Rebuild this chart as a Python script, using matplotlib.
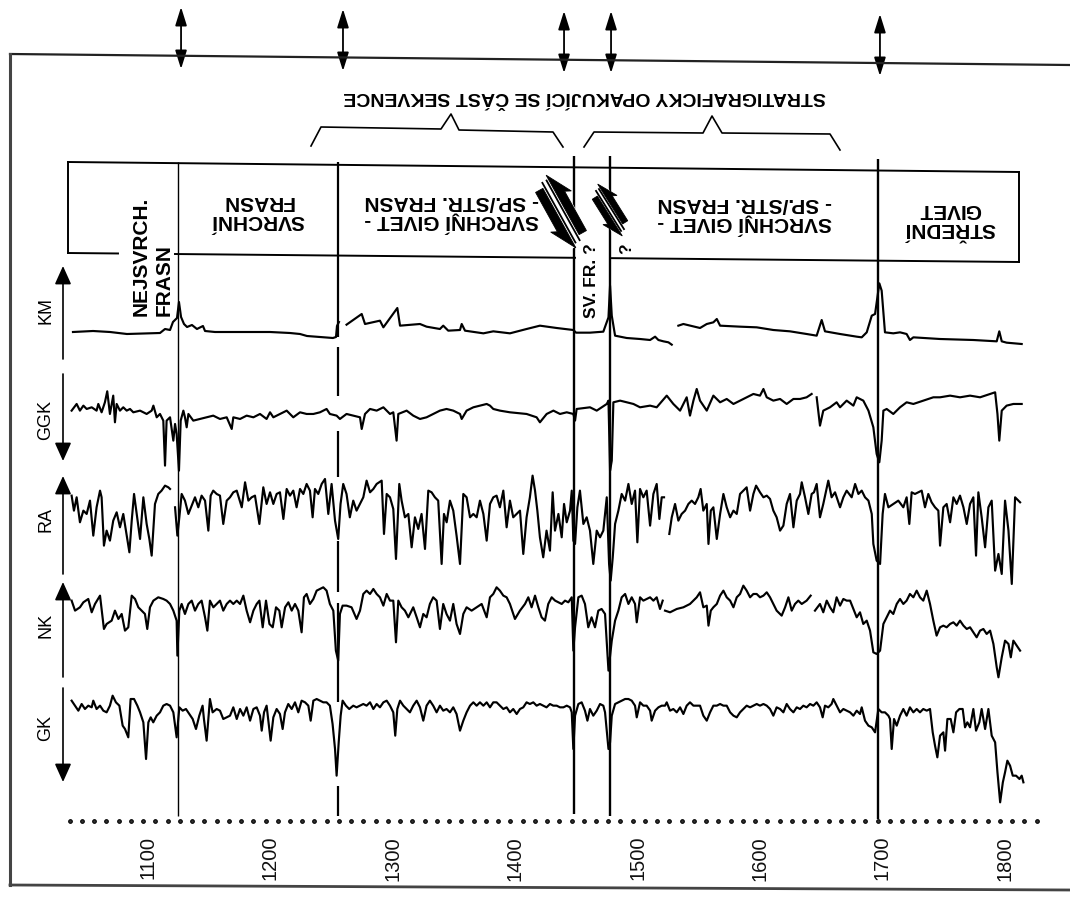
import numpy as np
import matplotlib
matplotlib.use("Agg")
import matplotlib.pyplot as plt
from matplotlib import font_manager as fm
from matplotlib.patches import Polygon
from matplotlib.ticker import FixedLocator, MultipleLocator

nan = float("nan")

# ------------------------------------------------------------------ data
DEPTH_TICKS = [1100, 1200, 1300, 1400, 1500, 1600, 1700, 1800]
BOUNDARY_DEPTHS = [1124.5, 1255.2, 1448.0, 1477.5, 1696.4]
ARROW_DEPTHS = [1127.0, 1259.3, 1439.9, 1478.3, 1698.0]
LOG_NAMES = ["KM", "GGK", "RA", "NK", "GK"]

TITLE = "STRATIGRAFICKY OPAKUJÍCÍ SE ČÁST SEKVENCE"
UNIT_LABELS = ["SVRCHNÍ\nFRASN", "SVRCHNÍ GIVET -\n- SP./STŘ. FRASN",
               "SVRCHNÍ GIVET -\n- SP./STŘ. FRASN", "STŘEDNÍ\nGIVET"]

# (depth m, relative log response) ; nan = interruption of the record
KM = [(1038.7, 66), (1055.1, 69), (1069.0, 66), (1082.8, 60), (1109.8, 63), (1113.9, 75),
      (1118.0, 72), (1120.4, 96), (1123.7, 108), (1125.3, 156), (1127.0, 111), (1129.4, 90),
      (1131.9, 81), (1135.9, 87), (1140.0, 75), (1144.9, 84), (1146.6, 69), (1154.7, 66),
      (1175.2, 66), (1199.7, 66), (1216.0, 63), (1224.2, 60), (1229.9, 54), (1240.5, 51),
      (1251.1, 48), (1253.6, 51), (1254.4, 84), (1256.0, 96), (1259.0, nan),
      (1262.2, 88), (1274.6, 120), (1277.3, 90), (1289.5, 100), (1292.3, 80), (1303.7, 138),
      (1305.9, 85), (1322.2, 90), (1327.6, 82), (1338.5, 75), (1341.2, 85), (1345.3, 70),
      (1354.9, 72), (1356.3, 90), (1359.0, 70), (1374.0, 62), (1382.1, 68), (1395.7, 62),
      (1409.3, 75), (1420.2, 85), (1433.9, 78), (1447.5, 72), (1449.7, 64), (1461.1, 64),
      (1472.0, 67), (1476.2, 110), (1477.5, 205), (1478.9, 115), (1481.6, 55), (1491.1, 48),
      (1502.0, 45), (1510.2, 42), (1514.3, 52), (1517.0, 42), (1521.1, 38), (1525.2, 35),
      (1527.9, 28), (1530.5, nan),
      (1533.3, 85), (1537.4, 90), (1551.0, 78), (1556.5, 90), (1561.9, 95), (1564.7, 105),
      (1567.4, 85), (1583.7, 82), (1597.3, 80), (1610.9, 72), (1624.5, 68), (1638.1, 60),
      (1646.3, 55), (1650.4, 102), (1653.1, 68), (1665.4, 60), (1679.0, 52), (1683.1, 50),
      (1687.2, 65), (1691.3, 115), (1694.0, 120), (1695.9, 170), (1697.5, 212), (1699.4, 190),
      (1702.1, 65), (1708.9, 62), (1714.4, 65), (1719.8, 60), (1722.5, 42), (1725.3, 50),
      (1747.1, 45), (1774.3, 42), (1793.4, 38), (1795.5, 68), (1797.5, 38), (1801.5, 34),
      (1813.8, 30)]

GGK = [(1037.6, 230), (1041.7, 250), (1044.4, 230), (1047.2, 245), (1049.9, 235), (1054.0, 240),
       (1058.0, 230), (1059.4, 250), (1062.1, 225), (1064.8, 255), (1066.7, 288), (1068.9, 220),
       (1071.6, 275), (1073.0, 195), (1074.4, 250), (1077.1, 230), (1079.8, 240), (1082.6, 230),
       (1085.3, 235), (1088.0, 225), (1093.5, 230), (1098.9, 220), (1103.0, 230), (1104.4, 245),
       (1107.1, 210), (1109.8, 220), (1112.5, 200), (1113.9, 65), (1115.2, 200), (1118.0, 210),
       (1120.7, 140), (1122.1, 190), (1123.4, 160), (1125.3, 50), (1126.7, 200), (1128.9, 230),
       (1130.2, 210), (1131.6, 180), (1133.0, 220), (1137.0, 200), (1142.5, 205), (1147.9, 210),
       (1153.3, 215), (1158.8, 205), (1164.3, 210), (1168.4, 175), (1169.7, 210), (1175.2, 205),
       (1180.6, 215), (1186.1, 210), (1191.5, 220), (1196.9, 205), (1199.7, 225), (1202.4, 210),
       (1207.8, 220), (1213.3, 230), (1218.7, 210), (1224.2, 225), (1229.6, 220), (1235.1, 220),
       (1240.5, 225), (1245.9, 235), (1248.6, 220), (1254.1, 215), (1256.8, 205), (1262.2, 220),
       (1267.7, 215), (1273.2, 210), (1274.6, 175), (1277.3, 220), (1281.4, 235), (1286.8, 230),
       (1292.3, 240), (1297.7, 220), (1300.4, 225), (1303.1, 140), (1304.5, 220), (1311.3, 230),
       (1316.7, 215), (1322.2, 205), (1327.6, 210), (1333.0, 220), (1338.5, 230), (1343.9, 235),
       (1349.4, 230), (1354.9, 220), (1356.3, 205), (1360.3, 230), (1365.8, 240), (1371.2, 245),
       (1376.7, 250), (1379.4, 245), (1382.1, 235), (1387.5, 230), (1395.7, 225), (1409.3, 220),
       (1417.5, 210), (1420.2, 195), (1425.7, 220), (1431.2, 230), (1436.6, 220), (1442.1, 225),
       (1447.5, 220), (1448.9, 200), (1450.2, 235), (1461.1, 240), (1466.6, 230), (1474.8, 250),
       (1476.2, 260), (1477.5, 50), (1478.9, 80), (1480.2, 255), (1485.7, 260), (1491.1, 255),
       (1496.6, 250), (1502.0, 240), (1510.2, 245), (1515.6, 240), (1523.8, 275), (1529.2, 250),
       (1534.7, 230), (1540.1, 270), (1542.8, 215), (1545.6, 260), (1548.3, 295), (1551.0, 260),
       (1556.5, 230), (1561.9, 275), (1567.4, 255), (1572.8, 265), (1578.3, 250), (1583.7, 260),
       (1589.1, 270), (1594.6, 280), (1600.0, 275), (1602.8, 295), (1605.5, 270), (1610.9, 260),
       (1616.4, 265), (1621.8, 250), (1627.3, 265), (1632.7, 265), (1638.1, 270), (1642.2, 280),
       (1644.2, nan), (1646.3, 270), (1649.0, 185), (1651.7, 230), (1657.2, 240), (1662.6, 255),
       (1665.4, 240), (1670.8, 260), (1676.3, 245), (1679.0, 270), (1684.4, 260), (1688.6, 230),
       (1692.6, 180), (1695.3, 100), (1697.5, 75), (1699.4, 140), (1700.8, 230), (1703.5, 235),
       (1708.9, 220), (1714.4, 240), (1719.8, 255), (1725.3, 250), (1733.4, 260), (1741.6, 270),
       (1747.1, 270), (1755.3, 275), (1763.4, 270), (1771.6, 275), (1779.8, 270), (1788.0, 280),
       (1792.1, 285), (1794.0, 220), (1795.5, 140), (1797.5, 230), (1801.5, 245), (1807.0, 250),
       (1813.8, 250)]

RA = [(1037.6, 305), (1039.5, 260), (1041.7, 300), (1044.4, 225), (1047.2, 260), (1049.9, 250),
      (1052.6, 290), (1055.3, 185), (1058.0, 270), (1060.8, 320), (1062.1, 300), (1064.0, 155),
      (1066.2, 200), (1068.9, 170), (1071.6, 230), (1074.4, 255), (1077.1, 210), (1079.8, 250),
      (1082.6, 185), (1084.8, 135), (1086.7, 230), (1088.6, 310), (1090.8, 250), (1093.5, 175),
      (1096.2, 300), (1098.9, 220), (1101.1, 175), (1103.0, 125), (1105.7, 280), (1108.4, 310),
      (1111.1, 320), (1113.9, 335), (1116.6, 330), (1118.0, 325), (1120.0, nan),
      (1122.1, 270), (1124.0, 185), (1125.6, 240), (1127.5, 310), (1130.2, 290), (1133.0, 250),
      (1135.7, 275), (1138.4, 300), (1141.1, 270), (1143.8, 305), (1146.6, 290), (1149.3, 200),
      (1151.2, 305), (1153.3, 320), (1156.1, 310), (1158.8, 305), (1161.5, 220), (1164.3, 290),
      (1167.0, 300), (1169.7, 315), (1172.5, 320), (1176.6, 270), (1179.3, 345), (1182.0, 290),
      (1184.7, 300), (1187.4, 305), (1191.0, 220), (1194.2, 330), (1196.9, 280), (1199.7, 315),
      (1202.4, 280), (1205.1, 310), (1207.8, 315), (1210.6, 235), (1213.3, 325), (1216.0, 305),
      (1218.7, 320), (1221.4, 270), (1224.2, 325), (1226.9, 310), (1229.6, 340), (1232.3, 320),
      (1234.5, 240), (1236.4, 325), (1239.1, 310), (1241.9, 340), (1244.6, 355), (1247.3, 250),
      (1250.0, 340), (1252.8, 230), (1255.4, 175), (1257.3, 280), (1259.5, 340), (1262.2, 310),
      (1264.9, 240), (1267.7, 290), (1270.4, 260), (1273.2, 280), (1275.9, 300), (1278.6, 350),
      (1281.4, 315), (1284.1, 325), (1286.8, 340), (1290.9, 350), (1292.8, 190), (1295.0, 310),
      (1297.7, 300), (1300.4, 265), (1302.6, 115), (1305.3, 340), (1307.2, 290), (1309.9, 240),
      (1312.7, 250), (1315.4, 150), (1318.1, 240), (1320.8, 205), (1323.5, 250), (1326.3, 145),
      (1329.0, 320), (1331.7, 315), (1334.4, 300), (1337.1, 290), (1339.9, 100), (1341.8, 250),
      (1344.0, 225), (1346.7, 290), (1349.4, 260), (1352.1, 185), (1354.9, 100), (1357.6, 310),
      (1360.3, 300), (1363.1, 240), (1365.8, 250), (1368.5, 240), (1371.2, 290), (1374.0, 250),
      (1376.7, 170), (1379.4, 280), (1382.1, 300), (1384.8, 305), (1387.5, 270), (1390.3, 320),
      (1393.0, 210), (1395.7, 290), (1398.4, 240), (1401.2, 250), (1403.9, 260), (1406.6, 130),
      (1409.3, 240), (1412.0, 300), (1414.2, 365), (1416.2, 320), (1418.1, 260), (1420.2, 180),
      (1422.9, 120), (1425.6, 200), (1428.4, 140), (1430.6, 315), (1432.5, 200), (1435.3, 250),
      (1438.0, 180), (1439.9, 280), (1442.1, 225), (1444.8, 260), (1446.2, 320), (1447.5, 170),
      (1448.9, 160), (1450.8, 270), (1452.9, 320), (1455.7, 220), (1458.4, 240), (1461.1, 200),
      (1463.8, 100), (1466.6, 200), (1469.3, 180), (1472.0, 200), (1474.8, 300), (1476.7, 100),
      (1478.0, 50), (1479.7, 120), (1481.6, 220), (1484.3, 260), (1487.0, 310), (1489.8, 290),
      (1492.5, 340), (1495.2, 280), (1497.9, 320), (1499.8, 165), (1502.0, 325), (1504.7, 300),
      (1507.4, 320), (1510.2, 215), (1512.9, 310), (1515.6, 340), (1517.8, 235), (1519.7, 300),
      (1521.6, 300), (1523.7, nan),
      (1525.9, 190), (1527.9, 240), (1530.6, 280), (1533.3, 230), (1536.0, 250), (1538.8, 260),
      (1541.5, 280), (1544.2, 290), (1546.9, 280), (1549.6, 300), (1551.5, 325), (1553.7, 260),
      (1556.5, 280), (1557.9, 160), (1559.8, 260), (1561.9, 270), (1564.7, 175), (1567.4, 250),
      (1570.1, 310), (1572.8, 270), (1575.6, 240), (1578.3, 260), (1581.0, 250), (1583.7, 310),
      (1586.4, 320), (1589.1, 330), (1591.9, 260), (1594.6, 310), (1596.8, 335), (1600.0, 315),
      (1602.8, 300), (1605.5, 305), (1608.2, 295), (1610.9, 260), (1613.6, 240), (1616.4, 200),
      (1619.1, 215), (1621.8, 280), (1624.5, 310), (1627.3, 210), (1630.0, 290), (1632.7, 310),
      (1634.1, 345), (1636.8, 300), (1639.5, 250), (1642.2, 310), (1644.1, 315), (1646.3, 340),
      (1649.0, 240), (1651.7, 280), (1655.8, 350), (1658.5, 300), (1661.3, 315), (1665.4, 270),
      (1668.1, 300), (1670.8, 320), (1674.9, 300), (1677.7, 340), (1680.4, 310), (1683.1, 320),
      (1685.8, 300), (1688.6, 290), (1691.3, 250), (1692.6, 160), (1695.3, 110), (1698.1, 100),
      (1700.2, 250), (1702.1, 310), (1704.9, 270), (1708.9, 280), (1713.0, 290), (1717.1, 270),
      (1719.8, 300), (1722.0, 220), (1723.9, 315), (1726.6, 310), (1729.3, 315), (1732.1, 320),
      (1734.8, 270), (1737.5, 310), (1740.2, 285), (1743.0, 270), (1745.7, 260), (1747.1, 155),
      (1749.8, 270), (1752.5, 280), (1755.3, 225), (1758.0, 300), (1760.7, 280), (1763.4, 305),
      (1766.2, 270), (1768.9, 220), (1771.6, 280), (1774.3, 300), (1776.5, 125), (1778.4, 315),
      (1781.1, 240), (1783.9, 150), (1786.6, 270), (1789.3, 290), (1792.1, 80), (1794.8, 130),
      (1797.5, 70), (1800.2, 290), (1803.0, 200), (1805.7, 40), (1808.4, 300), (1812.5, 285)]

NK = [(1037.6, 290), (1040.4, 260), (1044.4, 270), (1047.2, 285), (1051.2, 295), (1054.0, 255),
      (1056.7, 280), (1060.8, 305), (1064.0, 205), (1066.2, 220), (1070.3, 230), (1073.0, 260),
      (1075.8, 235), (1078.5, 250), (1081.2, 200), (1083.9, 210), (1086.7, 305), (1089.4, 295),
      (1092.1, 270), (1094.8, 260), (1097.5, 250), (1099.4, 205), (1101.6, 270), (1104.4, 290),
      (1108.4, 300), (1112.5, 295), (1115.2, 290), (1118.0, 280), (1120.7, 260), (1123.4, 230),
      (1124.0, 125), (1125.6, 260), (1127.5, 280), (1130.2, 250), (1133.0, 280), (1135.7, 290),
      (1138.4, 260), (1141.1, 280), (1143.8, 290), (1146.6, 240), (1148.5, 200), (1150.6, 290),
      (1153.4, 270), (1156.1, 280), (1158.8, 290), (1161.5, 260), (1164.3, 280), (1167.0, 290),
      (1169.7, 280), (1172.5, 290), (1175.2, 280), (1177.9, 305), (1180.6, 260), (1183.4, 225),
      (1186.1, 260), (1188.8, 280), (1191.0, 290), (1193.7, 210), (1196.4, 290), (1199.2, 220),
      (1201.9, 210), (1204.6, 270), (1207.3, 260), (1209.2, 210), (1212.0, 270), (1214.7, 285),
      (1217.4, 260), (1220.1, 280), (1222.8, 260), (1225.5, 195), (1227.4, 300), (1229.6, 310),
      (1232.3, 280), (1235.1, 295), (1237.8, 320), (1240.5, 325), (1243.2, 330), (1245.9, 320),
      (1248.6, 280), (1251.4, 260), (1253.5, 140), (1255.4, 110), (1256.8, 250), (1259.0, 275),
      (1262.2, 275), (1266.3, 270), (1270.4, 235), (1273.2, 260), (1275.9, 310), (1278.6, 320),
      (1281.4, 310), (1284.1, 325), (1286.8, 310), (1289.5, 300), (1292.3, 275), (1295.0, 310),
      (1297.7, 290), (1300.4, 290), (1302.6, 165), (1304.5, 290), (1307.2, 270), (1309.9, 260),
      (1312.7, 240), (1316.7, 270), (1319.5, 240), (1322.2, 210), (1324.9, 250), (1327.6, 240),
      (1330.3, 280), (1333.0, 300), (1335.8, 290), (1338.5, 205), (1341.2, 280), (1343.9, 250),
      (1346.7, 230), (1349.4, 280), (1352.1, 220), (1354.9, 190), (1357.6, 250), (1360.3, 270),
      (1364.4, 260), (1368.5, 270), (1372.6, 280), (1376.7, 240), (1379.4, 300), (1382.1, 310),
      (1384.8, 330), (1387.5, 320), (1390.3, 305), (1393.0, 300), (1395.7, 280), (1399.8, 235),
      (1403.9, 260), (1408.0, 280), (1410.7, 300), (1413.4, 270), (1416.2, 305), (1418.9, 270),
      (1421.6, 240), (1424.3, 230), (1427.0, 280), (1429.8, 300), (1432.6, 290), (1435.3, 285),
      (1438.0, 280), (1440.7, 290), (1443.4, 285), (1446.2, 300), (1447.5, 140), (1448.9, 210),
      (1451.6, 300), (1454.3, 305), (1457.0, 280), (1459.7, 210), (1462.4, 240), (1465.2, 210),
      (1467.9, 260), (1470.6, 265), (1473.4, 250), (1476.2, 80), (1478.9, 170), (1481.6, 230),
      (1484.3, 260), (1487.0, 300), (1489.8, 310), (1492.5, 280), (1495.2, 300), (1497.9, 280),
      (1499.3, 225), (1502.0, 300), (1504.7, 290), (1507.4, 295), (1510.2, 300), (1512.9, 290),
      (1515.6, 300), (1518.3, 265), (1520.5, 290), (1521.5, nan),
      (1522.4, 260), (1526.5, 255), (1532.0, 265), (1537.4, 270), (1542.8, 280), (1548.3, 300),
      (1551.0, 315), (1553.7, 270), (1556.5, 275), (1557.9, 215), (1559.8, 260), (1561.9, 270),
      (1564.7, 280), (1567.4, 305), (1570.1, 320), (1572.8, 300), (1575.6, 290), (1578.3, 270),
      (1581.0, 300), (1583.7, 310), (1586.4, 335), (1589.1, 320), (1591.9, 300), (1594.6, 310),
      (1597.3, 310), (1600.0, 300), (1602.8, 305), (1605.5, 315), (1608.2, 300), (1610.9, 280),
      (1613.6, 260), (1617.7, 245), (1620.5, 270), (1623.2, 300), (1625.9, 260), (1628.6, 280),
      (1631.3, 290), (1634.1, 280), (1638.1, 290), (1641.4, 305), (1643.0, nan),
      (1644.9, 260), (1649.0, 280), (1651.7, 255), (1654.5, 290), (1657.2, 270), (1659.9, 255),
      (1662.6, 300), (1665.4, 275), (1668.1, 295), (1670.8, 290), (1673.6, 290), (1676.3, 265),
      (1679.0, 240), (1681.7, 255), (1684.4, 220), (1687.2, 230), (1689.9, 200), (1692.6, 135),
      (1695.3, 130), (1698.1, 140), (1700.8, 220), (1703.5, 240), (1706.2, 260), (1708.9, 250),
      (1711.7, 280), (1714.4, 295), (1717.1, 280), (1719.8, 290), (1722.5, 310), (1725.3, 300),
      (1728.0, 320), (1730.7, 300), (1733.4, 290), (1736.2, 320), (1738.9, 280), (1741.6, 230),
      (1744.3, 185), (1747.1, 210), (1749.8, 215), (1752.5, 210), (1755.3, 220), (1758.0, 225),
      (1760.7, 215), (1763.4, 230), (1766.2, 215), (1768.9, 205), (1771.6, 210), (1774.3, 195),
      (1777.0, 180), (1779.8, 200), (1782.5, 205), (1785.2, 190), (1788.0, 200), (1790.7, 160),
      (1793.4, 90), (1794.8, 60), (1797.5, 120), (1800.2, 170), (1803.0, 160), (1804.9, 120),
      (1807.0, 170), (1809.8, 155), (1812.5, 140)]

GK = [(1037.6, 355), (1040.4, 340), (1043.1, 325), (1045.8, 345), (1048.5, 330), (1051.2, 340),
      (1054.0, 335), (1055.3, 355), (1058.0, 330), (1060.8, 340), (1063.5, 325), (1066.2, 320),
      (1068.9, 340), (1071.1, 370), (1073.8, 350), (1076.6, 340), (1079.3, 280), (1081.2, 270),
      (1083.9, 245), (1085.8, 360), (1088.6, 360), (1091.3, 340), (1093.5, 320), (1096.2, 290),
      (1098.4, 180), (1100.3, 290), (1102.2, 305), (1104.3, 290), (1107.1, 310), (1109.8, 320),
      (1112.5, 340), (1115.2, 345), (1118.0, 340), (1120.7, 320), (1123.4, 245), (1125.6, 335),
      (1128.3, 325), (1131.0, 330), (1133.8, 315), (1136.5, 300), (1139.2, 270), (1141.9, 310),
      (1144.6, 340), (1145.7, 300), (1147.9, 235), (1150.6, 360), (1152.8, 320), (1156.1, 330),
      (1158.8, 325), (1161.5, 300), (1164.3, 305), (1167.0, 310), (1169.7, 335), (1172.5, 300),
      (1175.2, 330), (1177.9, 310), (1180.6, 335), (1183.4, 295), (1186.1, 330), (1188.8, 335),
      (1191.5, 310), (1192.9, 265), (1194.8, 320), (1196.9, 340), (1200.2, 235), (1202.4, 305),
      (1205.1, 330), (1207.8, 315), (1210.0, 270), (1211.9, 320), (1214.6, 345), (1217.4, 330),
      (1220.1, 350), (1222.8, 320), (1225.5, 355), (1228.3, 350), (1231.0, 340), (1232.9, 295),
      (1235.1, 355), (1237.8, 360), (1240.5, 355), (1243.2, 350), (1245.9, 350), (1248.6, 340),
      (1250.8, 285), (1252.8, 210), (1254.1, 130), (1255.8, 230), (1257.4, 310), (1259.0, 355),
      (1261.7, 340), (1264.4, 330), (1267.7, 340), (1270.4, 335), (1273.2, 340), (1275.9, 345),
      (1278.6, 340), (1281.4, 350), (1284.1, 330), (1286.8, 345), (1289.5, 335), (1292.3, 350),
      (1295.0, 355), (1297.7, 340), (1300.4, 320), (1302.0, 250), (1303.7, 330), (1305.9, 355),
      (1308.6, 340), (1311.3, 330), (1314.0, 320), (1316.7, 340), (1319.5, 355), (1322.2, 335),
      (1324.9, 295), (1327.6, 340), (1330.3, 355), (1333.0, 340), (1335.8, 320), (1338.5, 340),
      (1341.2, 325), (1343.9, 330), (1346.7, 320), (1349.4, 335), (1352.1, 315), (1354.9, 265),
      (1357.6, 295), (1360.3, 320), (1363.1, 340), (1365.8, 350), (1368.5, 340), (1371.2, 350),
      (1374.0, 340), (1376.7, 350), (1379.4, 335), (1382.1, 350), (1384.8, 350), (1387.5, 340),
      (1390.3, 330), (1393.0, 335), (1395.7, 320), (1398.4, 330), (1401.2, 315), (1403.9, 330),
      (1406.6, 335), (1409.3, 350), (1412.0, 345), (1414.8, 350), (1417.5, 340), (1420.2, 345),
      (1422.9, 340), (1425.6, 335), (1428.4, 345), (1431.1, 340), (1433.9, 340), (1436.6, 335),
      (1439.4, 335), (1442.1, 340), (1444.8, 335), (1446.2, 320), (1447.5, 210), (1448.9, 310),
      (1451.6, 345), (1454.3, 350), (1457.0, 325), (1459.0, 295), (1461.1, 330), (1463.8, 310),
      (1466.6, 325), (1469.3, 345), (1472.0, 340), (1473.4, 320), (1476.2, 210), (1477.5, 230),
      (1478.9, 310), (1481.6, 345), (1484.3, 350), (1487.0, 355), (1489.8, 360), (1492.5, 360),
      (1495.2, 355), (1497.9, 340), (1499.3, 305), (1502.0, 350), (1504.7, 340), (1507.4, 340),
      (1510.2, 325), (1511.5, 295), (1514.3, 325), (1517.0, 335), (1519.7, 340), (1522.4, 340),
      (1523.8, 350), (1526.5, 325), (1529.2, 330), (1532.0, 320), (1534.7, 335), (1537.4, 315),
      (1540.1, 340), (1542.8, 350), (1545.6, 340), (1548.3, 340), (1551.0, 340), (1553.7, 310),
      (1556.5, 295), (1559.2, 320), (1561.9, 340), (1564.7, 340), (1567.4, 345), (1570.1, 340),
      (1572.8, 340), (1575.6, 320), (1578.3, 310), (1581.0, 305), (1583.7, 320), (1586.4, 330),
      (1589.1, 340), (1591.9, 335), (1594.6, 340), (1597.3, 345), (1600.0, 340), (1602.8, 345),
      (1605.5, 340), (1608.2, 330), (1610.9, 310), (1613.6, 335), (1616.4, 330), (1619.1, 320),
      (1621.8, 345), (1624.5, 330), (1627.3, 320), (1630.0, 335), (1632.7, 330), (1635.4, 340),
      (1638.1, 335), (1640.9, 345), (1643.6, 340), (1646.3, 350), (1649.0, 335), (1651.2, 305),
      (1653.1, 340), (1655.8, 335), (1658.5, 345), (1659.9, 360), (1662.6, 340), (1665.4, 320),
      (1668.1, 330), (1670.8, 325), (1673.6, 320), (1676.3, 310), (1679.0, 325), (1681.7, 315),
      (1683.1, 335), (1685.8, 295), (1688.6, 280), (1691.3, 275), (1694.0, 260), (1696.7, 330),
      (1699.4, 320), (1702.1, 320), (1704.9, 310), (1706.2, 300), (1707.6, 210), (1709.5, 300),
      (1711.7, 280), (1714.4, 310), (1717.1, 330), (1719.8, 310), (1722.5, 335), (1725.3, 320),
      (1728.0, 330), (1730.7, 320), (1733.4, 330), (1736.2, 325), (1738.9, 330), (1741.1, 260),
      (1743.0, 220), (1744.9, 185), (1747.1, 250), (1749.8, 260), (1751.2, 205), (1753.1, 300),
      (1755.8, 300), (1758.0, 260), (1760.2, 320), (1762.9, 330), (1765.6, 330), (1767.5, 275),
      (1769.4, 290), (1771.6, 275), (1774.3, 330), (1776.5, 265), (1779.2, 290), (1781.1, 330),
      (1783.9, 270), (1786.6, 330), (1789.3, 250), (1792.1, 230), (1794.0, 140), (1796.2, 50),
      (1798.4, 110), (1800.2, 140), (1802.1, 175), (1804.3, 160), (1806.5, 130), (1809.2, 130),
      (1812.0, 120), (1813.8, 130), (1815.2, 110)]

LOGS = {"KM": KM, "GGK": GGK, "RA": RA, "NK": NK, "GK": GK}

# ------------------------------------------------------------------ layout
W, H = 1070, 903
TRACK_BASE = {"KM": 355.0, "GGK": 488.3, "RA": 598.3, "NK": 698.3, "GK": 820.0}
GAIN = 1.0 / 3.0
LABEL_Y = {"KM": 311, "GGK": 420, "RA": 520, "NK": 625, "GK": 728}
TRACK_ARROWS = {"KM": (360, 267), "GGK": (375, 462), "RA": (575, 477),
                "NK": (678, 583), "GK": (689, 783)}


def pick(names):
    for n in names:
        try:
            fm.findfont(fm.FontProperties(family=n), fallback_to_default=False)
            return n
        except Exception:
            pass
    return None


narrow = pick(["Liberation Sans Narrow", "Arial Narrow"])
FAM_N = [narrow if narrow else "Liberation Sans", "DejaVu Sans"]
FAM_B = ["Liberation Sans", "DejaVu Sans"]
K = 1.15 if narrow else 1.0

fig = plt.figure(figsize=(W / 100, H / 100), dpi=100)
fig.patch.set_facecolor("white")

ax_left, ax_right, ax_bot, ax_top = 66, 1040, 822, 150
ax = fig.add_axes([ax_left / W, (H - ax_bot) / H, (ax_right - ax_left) / W, (ax_bot - ax_top) / H])
ax.set_zorder(1)
px_per_m = 1.224
ax.set_xlim(1100 + (ax_left - 148) / px_per_m, 1100 + (ax_right - 148) / px_per_m)
ax.set_ylim(ax_bot, ax_top)
for s in ax.spines.values():
    s.set_visible(False)
ax.set_yticks([])
ax.xaxis.set_major_locator(FixedLocator(DEPTH_TICKS))
ax.xaxis.set_minor_locator(MultipleLocator(10, offset=6))
ax.set_xticklabels([str(t) for t in DEPTH_TICKS], rotation=90,
                   fontsize=14.5 * K, family=FAM_N, color="#111")
ax.tick_params(axis="x", which="major", length=0, pad=10)
ax.tick_params(axis="x", which="minor", length=2.6, width=0.9, direction="out")

# log curves
for name in LOG_NAMES:
    d = np.array([p[0] for p in LOGS[name]], dtype=float)
    v = np.array([p[1] for p in LOGS[name]], dtype=float)
    ax.plot(d, TRACK_BASE[name] - v * GAIN, color="black", lw=1.55, zorder=3)

# boundary lines
b1, b2, b3, b4, b5 = BOUNDARY_DEPTHS
ax.vlines(b1, 163, 817, color="black", lw=1.0, zorder=2)
for lo, hi in [(163, 338), (348, 397), (432, 478), (542, 593), (604, 703), (787, 817)]:
    ax.vlines(b2, lo, hi, color="black", lw=1.6, zorder=2)
ax.vlines(b3, 157, 815, color="black", lw=1.7, zorder=2)
ax.vlines(b4, 157, 817, color="black", lw=1.7, zorder=2)
ax.vlines(b5, 160, 820, color="black", lw=1.7, zorder=2)

# boundary arrows on top
tops = [8, 10, 12, 12, 15]
bots = [70, 72, 74, 74, 77]
for d, t, b in zip(ARROW_DEPTHS, tops, bots):
    ax.annotate("", xy=(d, t), xytext=(d, b), xycoords="data", annotation_clip=False,
                arrowprops=dict(arrowstyle="<|-|>,head_length=0.8,head_width=0.25",
                                color="black", lw=1.3, shrinkA=0, shrinkB=0, mutation_scale=14))

# ------------------------------------------------------------------ overlay
deco = fig.add_axes([0, 0, 1, 1])
deco.set_zorder(2)
deco.patch.set_alpha(0)
deco.set_xlim(0, W)
deco.set_ylim(H, 0)
deco.axis("off")

fc = "#222222"
deco.plot([10, 1070], [55, 66], color=fc, lw=1.6)
deco.plot([10, 10], [55, 886], color="#444444", lw=2.2)
deco.plot([10, 1070], [886, 891], color="#444444", lw=2.0)


def box_bottom(x):
    return 254 + (x - 68) * 9 / 951


deco.plot([68, 1019], [163, 173], color="black", lw=1.4)
deco.plot([68, 68], [163, box_bottom(68)], color="black", lw=1.4)
deco.plot([1019, 1019], [173, 263], color="black", lw=1.4)
for x0, x1 in [(68, 118), (175, 575), (612, 1019)]:
    deco.plot([x0, x1], [box_bottom(x0), box_bottom(x1)], color="black", lw=1.4)

deco.plot([311, 321, 441, 451, 459, 553, 563], [147, 128, 130, 115, 131, 133, 148],
          color="black", lw=1.2)
deco.plot([584, 594, 703, 712, 722, 830, 840], [148, 133, 134, 117, 134, 135, 151],
          color="black", lw=1.2)

deco.text(585, 97, TITLE, rotation=180, ha="center", va="center",
          fontsize=14, fontweight="bold", family=FAM_B)

unit_pos = [(258, 211), (452, 211), (745, 213), (950, 219)]
for (x, y), txt in zip(unit_pos, UNIT_LABELS):
    deco.text(x, y, txt, rotation=180, ha="center", va="center", multialignment="center",
              fontsize=15 * K, fontweight="bold", family=FAM_N, linespacing=1.0, zorder=6)

deco.text(141, 316, "NEJSVRCH.", rotation=90, ha="center", va="bottom",
          fontsize=15 * K, fontweight="bold", family=FAM_N)
deco.text(164, 316, "FRASN", rotation=90, ha="center", va="bottom",
          fontsize=15 * K, fontweight="bold", family=FAM_N)
deco.text(592, 318, "SV. FR. ?", rotation=90, ha="center", va="bottom",
          fontsize=12.5 * K, fontweight="bold", family=FAM_N)
deco.text(627, 249, "?", rotation=90, ha="center", va="center",
          fontsize=12.5 * K, fontweight="bold", family=FAM_N)


def fault(cx, cy, L, theta, s):
    th = np.radians(theta)
    a = np.array([np.sin(th), np.cos(th)])
    p = np.array([np.cos(th), -np.sin(th)])

    def P(u, w):
        return (cx + u * a[0] + w * p[0], cy + u * a[1] + w * p[1])

    h = L / 2
    deco.add_patch(Polygon([P(-h - 3, -14 * s), P(h + 3, -14 * s), P(h + 3, 14 * s),
                            P(-h - 3, 14 * s)], closed=True, fc="white", ec="none", zorder=3))
    for w in (-2.4 * s, 2.4 * s):
        q0, q1 = P(-h, w), P(h, w)
        deco.plot([q0[0], q1[0]], [q0[1], q1[1]], color="black", lw=1.3, zorder=4,
                  solid_capstyle="butt")
    left = [P(-h + 6, -4.6 * s), P(h + 4, -4.6 * s), P(h - 22 * s, -19 * s),
            P(h - 19 * s, -13 * s), P(-h + 6, -13 * s)]
    right = [P(h - 6, 4.6 * s), P(-h - 4, 4.6 * s), P(-h + 22 * s, 19 * s),
             P(-h + 19 * s, 13 * s), P(h - 6, 13 * s)]
    for poly in (left, right):
        deco.add_patch(Polygon(poly, closed=True, fc="black", ec="black", lw=0.6, zorder=5))


fault(561, 212.5, 70, 29, 1.0)
fault(610, 211, 49, 32, 0.72)

for name in LOG_NAMES:
    deco.text(46, LABEL_Y[name], name, rotation=90, ha="center", va="center",
              fontsize=13 * K, family=FAM_N)
    y0, y1 = TRACK_ARROWS[name]
    deco.annotate("", xy=(63, y1), xytext=(63, y0), xycoords="data",
                  arrowprops=dict(arrowstyle="-|>,head_length=0.8,head_width=0.36",
                                  color="black", lw=1.2, shrinkA=0, shrinkB=0,
                                  mutation_scale=14))

fig.canvas.draw()
for tl in ax.xaxis.get_minorticklines():
    tl.set_marker("o")
    tl.set_markersize(2.6)
    tl.set_markerfacecolor("#333333")
    tl.set_markeredgecolor("black")
    tl.set_markeredgewidth(0.8)

fig.savefig("out.png", dpi=100, facecolor="white")
